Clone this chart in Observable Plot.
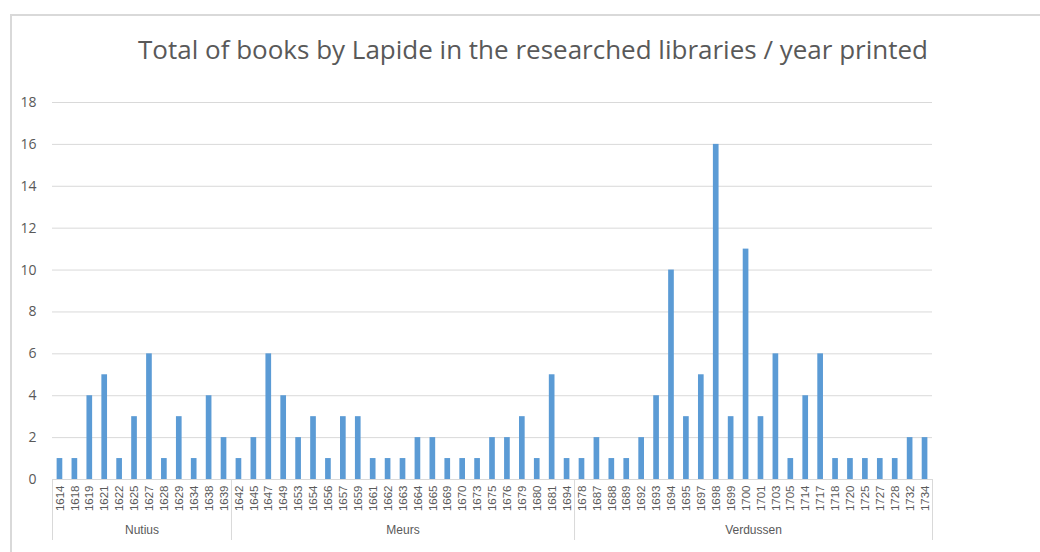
<!DOCTYPE html>
<html><head><meta charset="utf-8">
<script src="https://cdn.jsdelivr.net/npm/d3@7"></script>
<script src="https://cdn.jsdelivr.net/npm/@observablehq/plot@0.6"></script>
<style>
body{margin:0;background:#fff;width:1040px;height:552px;overflow:hidden;position:relative;font-family:"Open Sans",sans-serif}
#frame{position:absolute;left:10px;top:14px;width:1100px;height:600px;border-left:2px solid #d9d9d9;border-top:2px solid #d9d9d9}
#title{position:absolute;left:0;width:1066px;top:34px;text-align:center;font-size:26px;line-height:30px;color:#595959;white-space:nowrap}
#chart{position:absolute;left:0;top:80px}
</style></head><body>
<div id="frame"></div>
<div id="title">Total of books by Lapide in the researched libraries / year printed</div>
<div id="chart"></div>
<script>
const groupNames = ["Nutius", "Meurs", "Verdussen"];
const nutiusYears  = ["1614","1618","1619","1621","1622","1625","1627","1628","1629","1634","1638","1639"];
const nutiusValues = [1,1,4,5,1,3,6,1,3,1,4,2];
const meursYears   = ["1642","1645","1647","1649","1653","1654","1656","1657","1659","1661","1662","1663","1664","1665","1669","1670","1673","1675","1676","1679","1680","1681","1694"];
const meursValues  = [1,2,6,4,2,3,1,3,3,1,1,1,2,2,1,1,1,2,2,3,1,5,1];
const verdussenYears  = ["1678","1687","1688","1689","1692","1693","1694","1695","1697","1698","1699","1700","1701","1703","1705","1714","1717","1718","1720","1725","1727","1728","1732","1734"];
const verdussenValues = [1,2,1,1,2,4,10,3,5,16,3,11,3,6,1,4,6,1,1,1,1,1,2,2];
const yTicks = [0,2,4,6,8,10,12,14,16,18];

const groupYears = [nutiusYears, meursYears, verdussenYears];
const groupValues = [nutiusValues, meursValues, verdussenValues];

const rows = [];
const boundaries = [-0.5];
const mids = [];
groupNames.forEach((g, gi) => {
  const start = rows.length;
  groupYears[gi].forEach((y, k) => rows.push({i: rows.length, year: y, value: groupValues[gi][k], group: g}));
  const end = rows.length - 1;
  boundaries.push(end + 0.5);
  mids.push({pos: (start + end) / 2, name: g});
});
const half = 0.19;

const chart = Plot.plot({
  width: 1040,
  height: 469,
  marginTop: 22,
  marginBottom: 70,
  marginLeft: 52,
  marginRight: 108,
  style: {fontFamily: "'Liberation Sans', Arial, sans-serif", color: "#595959", background: "transparent"},
  x: {type: "linear", domain: [-0.5, rows.length - 0.5]},
  y: {domain: [0, 18]},
  marks: [
    Plot.gridY(yTicks.filter(d => d > 0), {stroke: "#d9d9d9", strokeOpacity: 1, strokeWidth: 1}),
    Plot.axisY({ticks: yTicks, tickSize: 0, tickPadding: 16, label: null, fontSize: 14, fontFamily: "'Open Sans', sans-serif", fill: "#595959"}),
    Plot.rectY(rows, {x1: d => d.i - half, x2: d => d.i + half, y: "value", fill: "#5b9bd5"}),
    Plot.ruleY([0], {stroke: "#d9d9d9", strokeWidth: 1}),
    Plot.axisX({ticks: rows.map(d => d.i), tickFormat: i => rows[i].year, tickRotate: -90, tickSize: 0, tickPadding: 6, label: null, fontSize: 11.5, fill: "#595959"}),
    Plot.axisX({ticks: boundaries, tickFormat: () => "", tickSize: 61, stroke: "#d9d9d9", label: null}),
    Plot.axisX({ticks: mids.map(d => d.pos), tickFormat: p => mids.find(m => m.pos === p).name, tickSize: 0, tickPadding: 46, label: null, fontSize: 12, fill: "#595959"})
  ]
});
document.getElementById("chart").appendChild(chart);
</script>
</body></html>
